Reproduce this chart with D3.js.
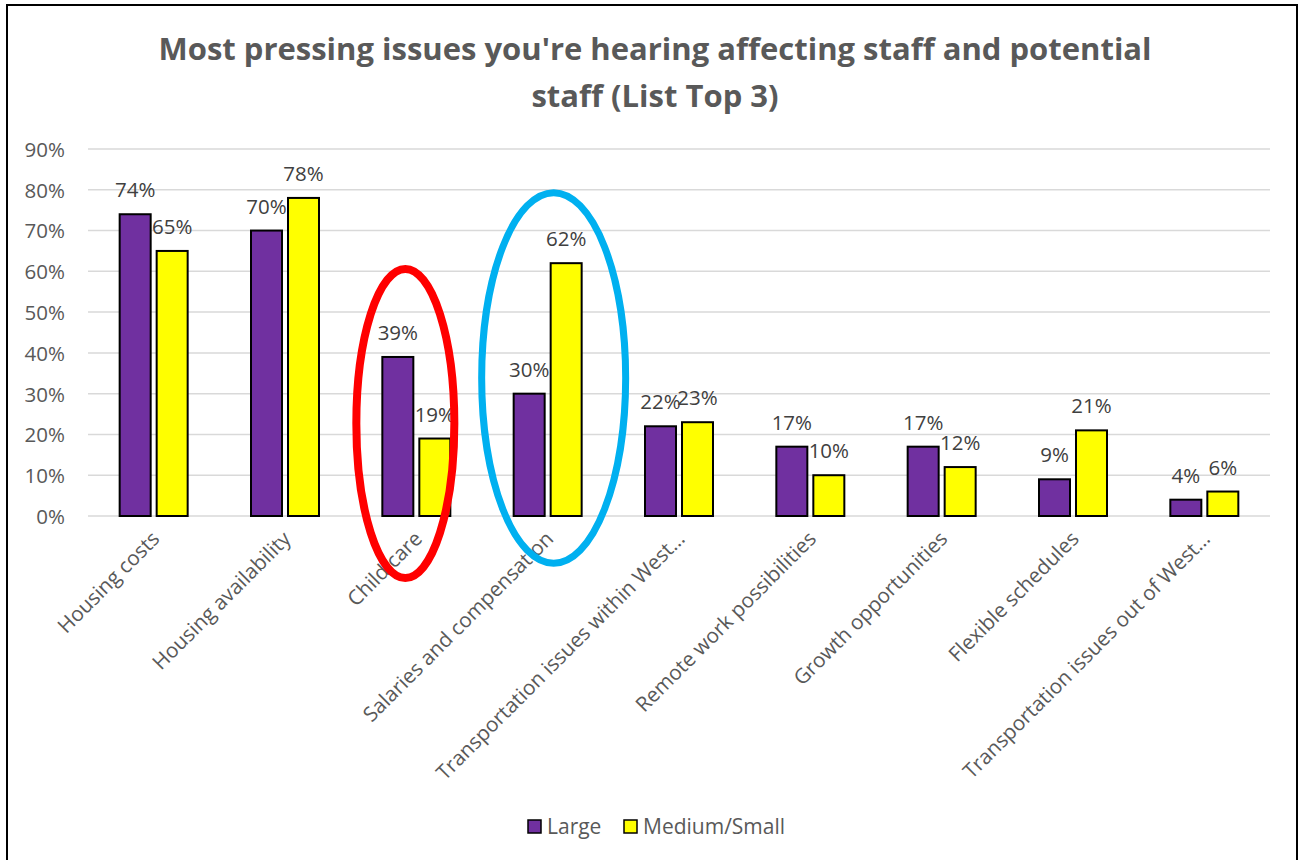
<!DOCTYPE html>
<html>
<head>
<meta charset="utf-8">
<script src="https://cdn.jsdelivr.net/npm/d3@7/dist/d3.min.js"></script>
<style>
  html, body { margin: 0; padding: 0; background: #fff; }
  svg { display: block; }
  text { font-family: "Open Sans", "Noto Sans", sans-serif; }
</style>
</head>
<body>
<svg id="chart" width="1304" height="860"></svg>
<script>
// Survey responses: share of respondents listing each issue in their top 3
const categories = [
  "Housing costs",
  "Housing availability",
  "Child care",
  "Salaries and compensation",
  "Transportation issues within West…",
  "Remote work possibilities",
  "Growth opportunities",
  "Flexible schedules",
  "Transportation issues out of West…"
];
const seriesNames = ["Large", "Medium/Small"];
const largeValues  = [0.74, 0.70, 0.39, 0.30, 0.22, 0.17, 0.17, 0.09, 0.04];
const mediumValues = [0.65, 0.78, 0.19, 0.62, 0.23, 0.10, 0.12, 0.21, 0.06];
const yTicks = [0, 0.1, 0.2, 0.3, 0.4, 0.5, 0.6, 0.7, 0.8, 0.9];
const titleLines = [
  "Most pressing issues you're hearing affecting staff and potential",
  "staff (List Top 3)"
];
// Highlight rings around two categories (value span top/bottom, horizontal radius)
const highlights = [
  { category: "Child care", top: 0.606, bottom: -0.152, dx: -11, rx: 49, color: "#ff0000", width: 8 },
  { category: "Salaries and compensation", top: 0.793, bottom: -0.116, dx: 6, rx: 72, color: "#00b0f0", width: 7 }
];

const colors = { "Large": "#7030a0", "Medium/Small": "#ffff00" };
const series = [largeValues, mediumValues];

const svg = d3.select("#chart");
const W = 1304, H = 860;
const plot = { left: 88, right: 1270, top: 149, bottom: 516 };

svg.append("rect").attr("width", W).attr("height", H).attr("fill", "#fff");
svg.append("rect")
  .attr("x", 7).attr("y", 5).attr("width", 1290).attr("height", 870)
  .attr("fill", "none").attr("stroke", "#000").attr("stroke-width", 2);

// Title
svg.append("g").selectAll("text").data(titleLines).join("text")
  .attr("x", 655).attr("y", (d, i) => 60 + i * 47)
  .attr("text-anchor", "middle")
  .attr("font-size", 31).attr("font-weight", "bold")
  .attr("fill", "#595959")
  .text(d => d);

const x = d3.scaleBand().domain(categories).range([plot.left, plot.right]);
const y = d3.scaleLinear().domain([0, 0.9]).range([plot.bottom, plot.top]);
const groupW = 68;
const xs = d3.scaleBand().domain(seriesNames).range([0, groupW]).paddingInner(0.162);

// Gridlines
svg.append("g").selectAll("line").data(yTicks).join("line")
  .attr("x1", plot.left).attr("x2", plot.right)
  .attr("y1", d => y(d)).attr("y2", d => y(d))
  .attr("stroke", "#d9d9d9").attr("stroke-width", 1.5);

// Y axis labels
const yAxis = d3.axisLeft(y).tickValues(yTicks).tickFormat(d3.format(".0%")).tickSize(0).tickPadding(0);
const yg = svg.append("g").attr("transform", `translate(${plot.left - 23},0)`).call(yAxis);
yg.select(".domain").remove();
yg.selectAll("text")
  .attr("font-family", "\"Open Sans\", sans-serif")
  .attr("font-size", 20.5).attr("fill", "#595959").attr("dy", "0.36em");

// Bars
const groups = svg.append("g").selectAll("g").data(categories).join("g")
  .attr("transform", d => `translate(${x(d) + x.bandwidth() / 2 - groupW / 2},0)`);

const cells = groups.selectAll("g").data((c, i) => seriesNames.map((s, k) => ({ s, v: series[k][i] })))
  .join("g");

cells.append("rect")
  .attr("x", d => xs(d.s)).attr("width", xs.bandwidth())
  .attr("y", d => y(d.v)).attr("height", d => y(0) - y(d.v))
  .attr("fill", d => colors[d.s])
  .attr("stroke", "#000").attr("stroke-width", 2);

cells.append("text")
  .attr("x", d => xs(d.s) + xs.bandwidth() / 2)
  .attr("y", d => y(d.v) - 17)
  .attr("text-anchor", "middle")
  .attr("font-size", 20.5).attr("fill", "#404040")
  .text(d => d3.format(".0%")(d.v));

// Category labels (rotated)
svg.append("g").selectAll("text").data(categories).join("text")
  .attr("text-anchor", "end")
  .attr("dy", "0.35em")
  .attr("transform", d => `translate(${x(d) + x.bandwidth() / 2 + 2},${plot.bottom + 19}) rotate(-45)`)
  .attr("font-size", 20.6).attr("fill", "#595959")
  .text(d => d);

// Highlight rings
svg.append("g").selectAll("ellipse").data(highlights).join("ellipse")
  .attr("cx", d => x(d.category) + x.bandwidth() / 2 + d.dx)
  .attr("cy", d => (y(d.top) + y(d.bottom)) / 2)
  .attr("rx", d => d.rx)
  .attr("ry", d => (y(d.bottom) - y(d.top)) / 2)
  .attr("fill", "none")
  .attr("stroke", d => d.color)
  .attr("stroke-width", d => d.width);

// Legend
const legendPos = [528, 624];
const lg = svg.append("g").selectAll("g").data(seriesNames).join("g")
  .attr("transform", (d, i) => `translate(${legendPos[i]},820)`);
lg.append("rect").attr("width", 13).attr("height", 13)
  .attr("fill", d => colors[d]).attr("stroke", "#000").attr("stroke-width", 1.5);
lg.append("text").attr("x", 19).attr("y", 13.5)
  .attr("font-size", 21).attr("fill", "#595959")
  .text(d => d);
</script>
</body>
</html>
